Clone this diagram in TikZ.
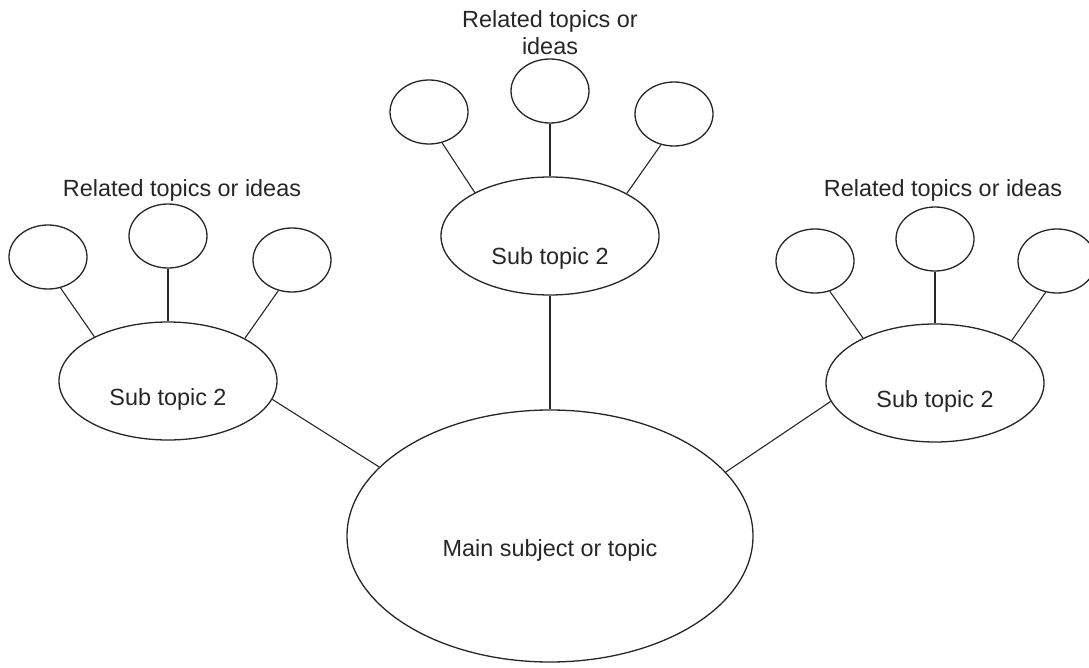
\documentclass[tikz,border=0pt]{standalone}
\usepackage{fontspec}
\setmainfont{Liberation Sans}
\usepackage{xcolor}
\usetikzlibrary{shapes.geometric}

\begin{document}
\begin{tikzpicture}[x=1pt,y=-1pt,line width=1.3pt,
    every node/.style={font=\fontsize{23.4}{27}\selectfont,text=black!85},
    bubble/.style={draw=black!85,ellipse,inner sep=0pt,minimum width=78pt,minimum height=64pt},
    subtopic/.style={draw=black!85,ellipse,inner sep=0pt,minimum width=218pt,minimum height=118pt},
    topictext/.style={yshift=-18pt},
    link/.style={draw=black!85,line width=1.1pt}]
    \useasboundingbox (0,0) rectangle (1089,668);
    % main subject
    \node[draw=black!85,ellipse,inner sep=0pt,minimum width=406pt,minimum height=252pt,
      label={[yshift=-14pt]center:Main subject or topic}] (main) at (550,536) {};
    % sub topics
    \node[subtopic,label={[topictext]center:Sub topic 2}] (sub_l) at (168,381) {};
    \node[subtopic,label={[topictext,yshift=-4pt]center:Sub topic 2}] (sub_m) at (550,236) {};
    \node[subtopic,label={[topictext]center:Sub topic 2}] (sub_r) at (935,383) {};
    % related ideas
    \node[bubble] (l1) at (48,257) {};
    \node[bubble] (l2) at (168,236) {};
    \node[bubble] (l3) at (292,260) {};
    \node[bubble] (m1) at (429,112) {};
    \node[bubble] (m2) at (550,91) {};
    \node[bubble] (m3) at (674,114) {};
    \node[bubble] (r1) at (815,261) {};
    \node[bubble] (r2) at (935,239) {};
    \node[bubble] (r3) at (1057,261) {};
    \node (rel_l) at (182,190) {Related topics or ideas};
    \node[align=center] (rel_m) at (550,33) {Related topics or\\ideas};
    \node (rel_r) at (943,190) {Related topics or ideas};
    % links
    \draw[link] (l1.-68) -- (sub_l.149);
    \draw[link] (l2.south) -- (sub_l.north);
    \draw[link] (l3.-114) -- (sub_l.29);
    \draw[link] (m1.-67) -- (sub_m.150);
    \draw[link] (m2.south) -- (sub_m.north);
    \draw[link] (m3.-113) -- (sub_m.29);
    \draw[link] (r1.-64) -- (sub_r.148);
    \draw[link] (r2.south) -- (sub_r.north);
    \draw[link] (r3.-110) -- (sub_r.29);
    \draw[link] (sub_l.-10) -- (main.158);
    \draw[link] (sub_m.south) -- (main.north);
    \draw[link] (sub_r.190) -- (main.20);
\end{tikzpicture}
\end{document}
